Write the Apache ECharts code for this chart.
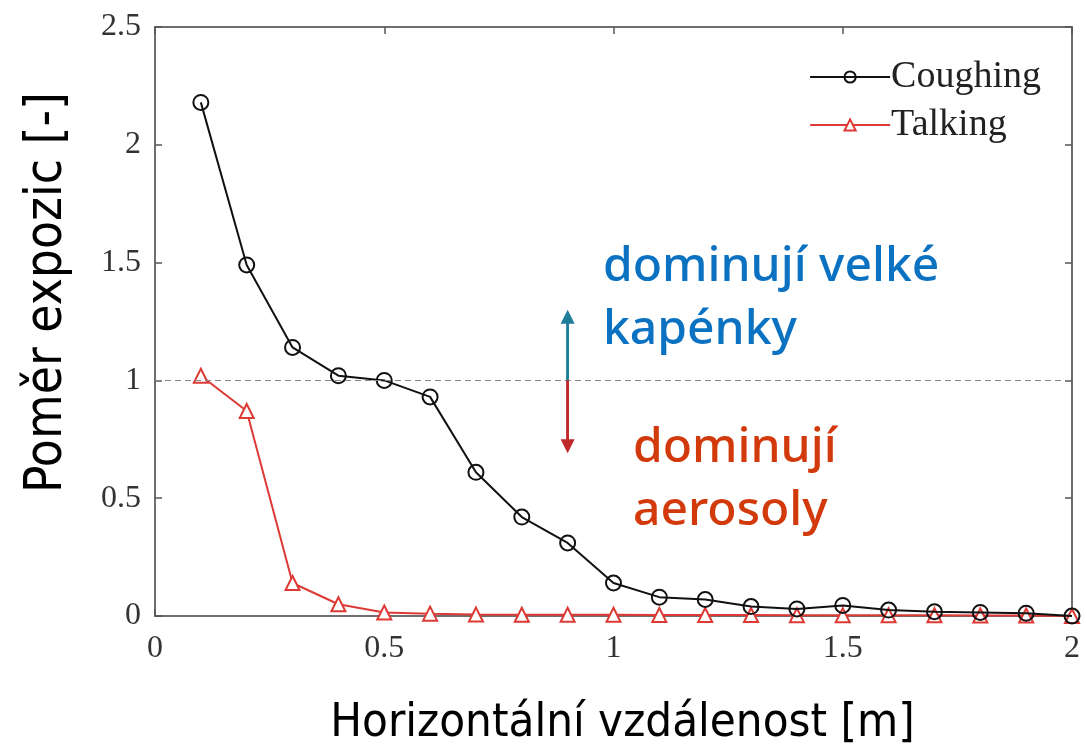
<!DOCTYPE html>
<html>
<head>
<meta charset="utf-8">
<script src="https://cdn.jsdelivr.net/npm/echarts@6/dist/echarts.min.js"></script>
<style>
html,body{margin:0;padding:0;background:#fff;}
#chart{width:1086px;height:749px;}
</style>
</head>
<body>
<div id="chart"></div>
<script>
// ---- data ----
const distances = [0.1,0.2,0.3,0.4,0.5,0.6,0.7,0.8,0.9,1.0,1.1,1.2,1.3,1.4,1.5,1.6,1.7,1.8,1.9,2.0];
const coughing = [2.18,1.49,1.14,1.02,1.00,0.93,0.61,0.42,0.31,0.14,0.08,0.07,0.04,0.03,0.045,0.025,0.018,0.015,0.012,0.0];
const talking  = [1.02,0.87,0.14,0.05,0.015,0.01,0.006,0.005,0.005,0.005,0.004,0.004,0.004,0.003,0.003,0.003,0.003,0.002,0.002,0.0];
const xTicks = ['0','0.5','1','1.5','2'];
const yTicks = ['0','0.5','1','1.5','2','2.5'];
const seriesNames = ['Coughing','Talking'];
const thresholdRatio = 1.0;
const arrowX = 0.9;
const arrowUpTo = 1.27;
const arrowDownTo = 0.72;
const noteUpper = ['dominují velké','kapénky'];
const noteLower = ['dominují','aerosoly'];
const xName = 'Horizontální vzdálenost [m]';
const yName = 'Poměr expozic [-]';

const pair = (xs, ys) => xs.map((x,i)=>[x, ys[i]]);
const serif = '"Liberation Serif","Times New Roman",serif';
const cond = '"DejaVu Sans Condensed","DejaVu Sans","Noto Sans",sans-serif';
const sans = '"Noto Sans","Open Sans",sans-serif';

const chart = echarts.init(document.getElementById('chart'));
const mkLine = () => ({show:true, onZero:false, lineStyle:{color:'#6e6e6e', width:2}});
const mkTick = () => ({show:true, inside:true, length:7, lineStyle:{color:'#555', width:1.5}});

chart.setOption({
  animation:false,
  backgroundColor:'#fff',
  grid:{left:155, right:14, top:27, bottom:133, outerBoundsMode:'none'},
  legend:{
    right:40, top:52, orient:'vertical', itemGap:8,
    itemWidth:80, itemHeight:14,
    textStyle:{fontFamily:serif, fontSize:38, lineHeight:40, color:'#222', padding:[0,0,0,-4]},
    data:seriesNames
  },
  xAxis:[{
    type:'value', min:0, max:2, interval:0.5,
    axisLine:mkLine(), axisTick:mkTick(), splitLine:{show:false},
    axisLabel:{fontFamily:serif, fontSize:32, color:'#333', margin:17,
      formatter:(v)=>xTicks[Math.round(v/0.5)]},
    name:xName, nameLocation:'middle', nameGap:84,
    nameTextStyle:{fontFamily:cond, fontSize:47, color:'#000', padding:[0,0,0,18]}
  },{
    type:'value', position:'top', min:0, max:2, interval:0.5,
    axisLine:mkLine(), axisTick:mkTick(), axisLabel:{show:false}, splitLine:{show:false}
  }],
  yAxis:[{
    type:'value', min:0, max:2.5, interval:0.5,
    axisLine:mkLine(), axisTick:mkTick(), splitLine:{show:false},
    axisLabel:{fontFamily:serif, fontSize:32, color:'#333', margin:14,
      formatter:(v)=>yTicks[Math.round(v/0.5)]},
    name:yName, nameLocation:'middle', nameGap:82,
    nameTextStyle:{fontFamily:cond, fontSize:51, color:'#000', padding:[0,0,0,58]}
  },{
    type:'value', position:'right', min:0, max:2.5, interval:0.5,
    axisLine:mkLine(), axisTick:mkTick(), axisLabel:{show:false}, splitLine:{show:false}
  }],
  series:[
    {
      name:seriesNames[1], type:'line', data:pair(distances, talking), z:3,
      xAxisIndex:1, yAxisIndex:1,
      symbol:'triangle', symbolSize:14,
      itemStyle:{color:'#fff', borderColor:'#dd3a36', borderWidth:2},
      lineStyle:{color:'#dd3a36', width:2},
      color:'#dd3a36'
    },
    {
      name:seriesNames[0], type:'line', data:pair(distances, coughing), z:4,
      symbol:'circle', symbolSize:15,
      itemStyle:{color:'rgba(255,255,255,0)', borderColor:'#111', borderWidth:2},
      lineStyle:{color:'#111', width:2},
      color:'#111',
      markLine:{
        silent:true, symbol:'none', label:{show:false},
        lineStyle:{color:'#888', type:[6,4], width:1.2},
        data:[{yAxis:thresholdRatio}]
      }
    },
    {
      name:'arrowUp', type:'line', data:[[arrowX,thresholdRatio],[arrowX,arrowUpTo]],
      showSymbol:false,
      lineStyle:{color:'#1f7f9a', width:2.5}, silent:true, z:5,
      markLine:{silent:true, symbol:['none','triangle'], symbolSize:[14,14], label:{show:false},
        lineStyle:{color:'#1f7f9a', width:2.5, type:'solid'},
        itemStyle:{color:'#1a6db8'},
        data:[[{coord:[arrowX,thresholdRatio]},{coord:[arrowX,arrowUpTo]}]]}
    },
    {
      name:'arrowDown', type:'line', data:[[arrowX,thresholdRatio],[arrowX,arrowDownTo]],
      showSymbol:false, lineStyle:{color:'#c0282a', width:2.5}, silent:true, z:5,
      markLine:{silent:true, symbol:['none','triangle'], symbolSize:[14,14], label:{show:false},
        lineStyle:{color:'#c0282a', width:2.5, type:'solid'},
        itemStyle:{color:'#e8141a'},
        data:[[{coord:[arrowX,thresholdRatio]},{coord:[arrowX,arrowDownTo]}]]}
    }
  ],
  graphic:[
    {type:'text', left:603, top:236, style:{text:noteUpper.join('\n'), fill:'#0b72c2',
      font:'500 48px '+sans, lineHeight:63}},
    {type:'text', left:633, top:417, style:{text:noteLower.join('\n'), fill:'#d23a0c',
      font:'500 48px '+sans, lineHeight:63}}
  ]
});
</script>
</body>
</html>
